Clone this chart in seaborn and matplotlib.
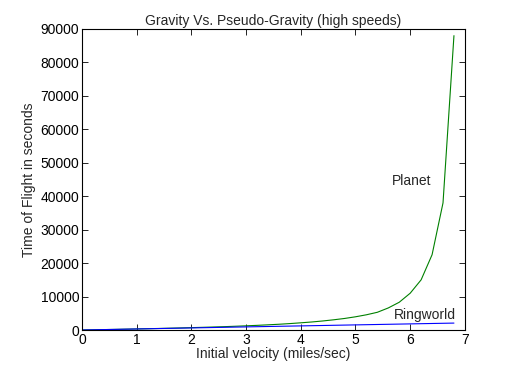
import numpy as np
import pandas as pd
import seaborn as sns
import matplotlib
matplotlib.use("Agg")
import matplotlib.pyplot as plt

# initial velocity in miles/sec
velocity = [0.0, 0.2, 0.4, 0.6, 0.8, 1.0, 1.2, 1.4, 1.6, 1.8, 2.0, 2.2, 2.4, 2.6,
            2.8, 3.0, 3.2, 3.4, 3.6, 3.8, 4.0, 4.2, 4.4, 4.6, 4.8, 5.0, 5.2, 5.4,
            5.6, 5.8, 6.0, 6.2, 6.4, 6.6, 6.8]
# time of flight (s)
planet = [0, 60, 120, 180, 250, 320, 390, 460, 540, 620, 710, 800, 900, 1000,
          1120, 1250, 1390, 1550, 1720, 1920, 2150, 2400, 2700, 3050, 3450,
          3950, 4550, 5300, 6600, 8300, 11000, 15000, 22500, 38000, 88000]
ringworld = [0, 60, 125, 185, 250, 310, 370, 435, 495, 560, 620, 680, 745, 805,
             870, 930, 990, 1050, 1110, 1170, 1230, 1290, 1350, 1410, 1470,
             1530, 1590, 1650, 1710, 1770, 1830, 1890, 1950, 2010, 2070]

df = pd.DataFrame({"v": velocity + velocity,
                   "t": planet + ringworld,
                   "body": ["Planet"] * len(velocity) + ["Ringworld"] * len(velocity)})

sns.set_theme(style="ticks")
plt.rcParams["font.family"] = ["Liberation Sans", "DejaVu Sans"]
plt.rcParams["xtick.direction"] = "in"
plt.rcParams["ytick.direction"] = "in"

fig = plt.figure(figsize=(5.12, 3.84), dpi=100)
ax = fig.add_axes([0.160, 0.1406, 0.748, 0.784])

sns.lineplot(data=df, x="v", y="t", hue="body",
             palette={"Planet": "#008000", "Ringworld": "#0000ff"},
             linewidth=0.8, legend=False, ax=ax)

ax.set_xlim(0, 7)
ax.set_ylim(0, 90000)
ax.set_xticks(range(0, 8))
ax.set_yticks(range(0, 90001, 10000))
ax.tick_params(top=True, right=True, labelsize=10, length=4, width=0.6,
               colors="black", pad=2)
for s in ax.spines.values():
    s.set_linewidth(0.8)
    s.set_color("black")

ax.text(5.66, 44400, "Planet", fontsize=10, va="center", ha="left")
ax.text(5.7, 4600, "Ringworld", fontsize=10, va="center", ha="left")

ax.set_title("Gravity Vs. Pseudo-Gravity (high speeds)", fontsize=10, pad=3)
ax.set_xlabel("Initial velocity (miles/sec)", fontsize=10, labelpad=0)
ax.set_ylabel("Time of Flight in seconds", fontsize=10, labelpad=3)

fig.savefig("out.png", dpi=100)
